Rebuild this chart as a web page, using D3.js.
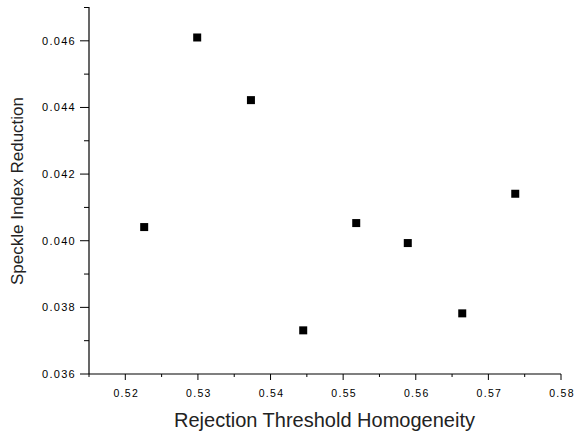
<!DOCTYPE html>
<html>
<head>
<meta charset="utf-8">
<script src="https://cdn.jsdelivr.net/npm/d3@7"></script>
<style>
  body { margin: 0; background: #fff; }
  svg { display: block; }
</style>
</head>
<body>
<svg id="chart"></svg>
<script>
// Data
let xValues = [0.5226, 0.5299, 0.5373, 0.5445, 0.5518, 0.5589, 0.5664, 0.5737];
let yValues = [0.04041, 0.04610, 0.04422, 0.03731, 0.04053, 0.03993, 0.03782, 0.04141];
let xTicks = [0.52, 0.53, 0.54, 0.55, 0.56, 0.57, 0.58];
let yTicks = [0.036, 0.038, 0.040, 0.042, 0.044, 0.046];
let xMinor = [0.515, 0.525, 0.535, 0.545, 0.555, 0.565, 0.575];
let yMinor = [0.037, 0.039, 0.041, 0.043, 0.045, 0.047];

let width = 575, height = 434;
let svg = d3.select("#chart").attr("width", width).attr("height", height);

let x = d3.scaleLinear().domain([0.515, 0.58]).range([89, 561]);
let y = d3.scaleLinear().domain([0.036, 0.047]).range([374, 7.5]);

let font = "Liberation Sans, Arial, sans-serif";

// x axis
let gx = svg.append("g").attr("transform", "translate(0,374)");
gx.append("line").attr("x1", x.range()[0]).attr("x2", x.range()[1])
  .attr("stroke", "#000").attr("stroke-width", 1.2);
gx.selectAll(".major").data(xTicks).join("line")
  .attr("class", "major")
  .attr("x1", d => x(d)).attr("x2", d => x(d)).attr("y1", 0).attr("y2", 6)
  .attr("stroke", "#000");
gx.selectAll(".minor").data(xMinor).join("line")
  .attr("class", "minor")
  .attr("x1", d => x(d)).attr("x2", d => x(d)).attr("y1", 0).attr("y2", 3)
  .attr("stroke", "#000");
gx.selectAll("text").data(xTicks).join("text")
  .attr("x", d => x(d) + 1).attr("y", 23)
  .attr("text-anchor", "middle")
  .style("font-family", font).style("font-size", "10.5px")
  .style("letter-spacing", "1.3px")
  .text(d => d3.format(".2f")(d));

// y axis
let gy = svg.append("g").attr("transform", "translate(89,0)");
gy.append("line").attr("y1", 7).attr("y2", 374)
  .attr("stroke", "#000").attr("stroke-width", 1.2);
gy.selectAll(".major").data(yTicks).join("line")
  .attr("class", "major")
  .attr("y1", d => y(d)).attr("y2", d => y(d)).attr("x1", 0).attr("x2", -9)
  .attr("stroke", "#000");
gy.selectAll(".minor").data(yMinor).join("line")
  .attr("class", "minor")
  .attr("y1", d => y(d)).attr("y2", d => y(d)).attr("x1", 0).attr("x2", -5)
  .attr("stroke", "#000");
gy.selectAll("text").data(yTicks).join("text")
  .attr("x", -13).attr("y", d => y(d)).attr("dy", "0.35em")
  .attr("text-anchor", "end")
  .style("font-family", font).style("font-size", "11px")
  .style("letter-spacing", "1.3px")
  .text(d => d3.format(".3f")(d));

// axis titles
svg.append("text")
  .attr("x", 324.5).attr("y", 427)
  .attr("text-anchor", "middle")
  .style("font-family", font).style("font-size", "20px")
  .attr("fill", "#222")
  .text("Rejection Threshold Homogeneity");

svg.append("text")
  .attr("transform", "translate(23,191) rotate(-90)")
  .attr("text-anchor", "middle")
  .style("font-family", font).style("font-size", "17px")
  .attr("fill", "#222")
  .text("Speckle Index Reduction");

// points
let pts = xValues.map((v, i) => ({ x: v, y: yValues[i] }));
svg.append("g").selectAll("rect").data(pts).join("rect")
  .attr("x", d => x(d.x) - 4).attr("y", d => y(d.y) - 4)
  .attr("width", 8).attr("height", 8)
  .attr("fill", "#000");
</script>
</body>
</html>
